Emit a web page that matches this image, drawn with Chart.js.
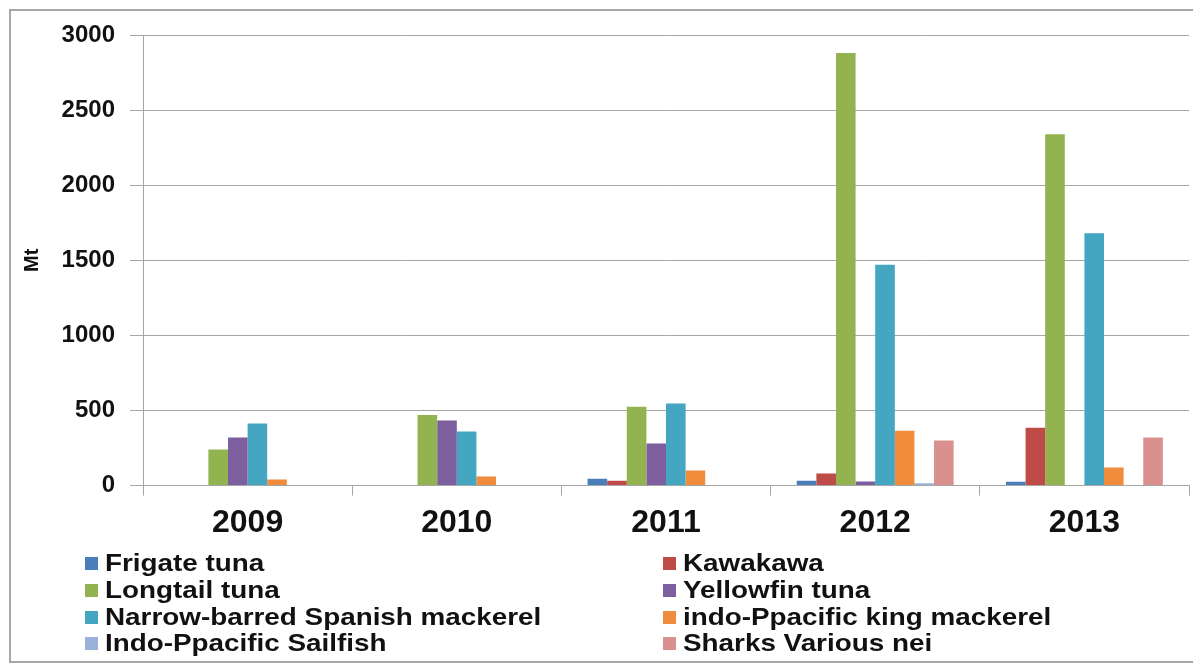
<!DOCTYPE html>
<html>
<head>
<meta charset="utf-8">
<script src="https://cdn.jsdelivr.net/npm/chart.js@4.4.1/dist/chart.umd.min.js"></script>
<style>
  body { margin: 0; background: #fff; }
  #wrap { position: relative; width: 1193px; height: 667px; }
  #frame { position: absolute; left: 9px; top: 9px; width: 1190px; height: 654px; border: 2px solid #a8a8a8; box-sizing: border-box; pointer-events: none; }
  #legend { position: absolute; left: 0; top: 0; width: 1193px; height: 667px; pointer-events: none; font-family: "Liberation Sans", Arial, sans-serif; font-weight: bold; color: #111; }
  .item { position: absolute; height: 26px; line-height: 26px; font-size: 24px; white-space: nowrap; }
  .item .box { position: absolute; left: 0; top: 7px; width: 13px; height: 13px; }
  .item .txt { position: absolute; left: 20px; top: 0; transform: scaleX(1.16); transform-origin: left center; }
</style>
</head>
<body>
<div id="wrap">
  <canvas id="chart" width="1193" height="667"></canvas>
  <div id="frame"></div>
  <div id="legend"></div>
</div>
<script>
// years on the x axis
const years = ['2009', '2010', '2011', '2012', '2013'];

// catch per species (Mt), null where no bar is drawn
const frigateTuna = [null, null, 45, 33, 25];
const kawakawa = [null, null, 33, 80, 385];
const longtailTuna = [240, 470, 525, 2880, 2340];
const yellowfinTuna = [320, 433, 280, 27, null];
const spanishMackerel = [413, 360, 547, 1470, 1680];
const kingMackerel = [40, 60, 100, 365, 120];
const sailfish = [null, null, null, 15, null];
const sharks = [null, null, null, 300, 320];

const seriesNames = [
    'Frigate tuna', 'Kawakawa', 'Longtail tuna', 'Yellowfin tuna',
    'Narrow-barred Spanish mackerel', 'indo-Ppacific king mackerel',
    'Indo-Ppacific Sailfish', 'Sharks Various nei'
];
const seriesValues = [frigateTuna, kawakawa, longtailTuna, yellowfinTuna,
    spanishMackerel, kingMackerel, sailfish, sharks];
const seriesColors = ['#4a7ebb', '#be4b48', '#93b350', '#7d5fa0',
    '#45a6c2', '#f08c3c', '#98b2da', '#d9908f'];

const yTicks = [0, 500, 1000, 1500, 2000, 2500, 3000];

const gridColor = '#a6a6a6';

const chart = new Chart(document.getElementById('chart'), {
    type: 'bar',
    data: {
        labels: years,
        datasets: seriesNames.map((name, i) => ({
            label: name,
            data: seriesValues[i],
            backgroundColor: seriesColors[i],
            borderWidth: 0,
            categoryPercentage: 0.75,
            barPercentage: 1.0
        }))
    },
    options: {
        responsive: false,
        animation: false,
        layout: { padding: { left: 10, right: 4, top: 35, bottom: 117 } },
        plugins: {
            legend: { display: false },
            tooltip: { enabled: false }
        },
        scales: {
            x: {
                grid: { display: true, drawOnChartArea: false, drawTicks: true, tickLength: 10, color: gridColor },
                border: { color: gridColor },
                ticks: {
                    padding: 8,
                    color: '#111',
                    font: { family: '"Liberation Sans", Arial', size: 32, weight: 'bold' }
                }
            },
            y: {
                min: 0,
                max: 3000,
                afterBuildTicks: (scale) => { scale.ticks = yTicks.map(v => ({ value: v })); },
                afterFit: (scale) => { scale.width = 133; },
                grid: { color: gridColor, tickLength: 13 },
                border: { color: gridColor },
                ticks: {
                    padding: 15,
                    color: '#111',
                    callback: (value) => String(value), // no thousands separator
                    font: { family: '"Liberation Sans", Arial', size: 24, weight: 'bold' }
                },
                title: {
                    display: true,
                    text: 'Mt',
                    color: '#111',
                    padding: { top: 10, bottom: 0 },
                    font: { family: '"Liberation Sans", Arial', size: 20, weight: 'bold' }
                }
            }
        }
    }
});

// two-column legend under the chart, filled from the datasets
const legendEl = document.getElementById('legend');
const colX = [85, 663];
const rowY = [550, 577, 604, 630];
chart.data.datasets.forEach((ds, i) => {
    const item = document.createElement('div');
    item.className = 'item';
    item.style.left = colX[i % 2] + 'px';
    item.style.top = rowY[Math.floor(i / 2)] + 'px';
    item.innerHTML = '<span class="box" style="background:' + ds.backgroundColor + '"></span><span class="txt"></span>';
    item.querySelector('.txt').textContent = ds.label;
    legendEl.appendChild(item);
});
</script>
</body>
</html>
